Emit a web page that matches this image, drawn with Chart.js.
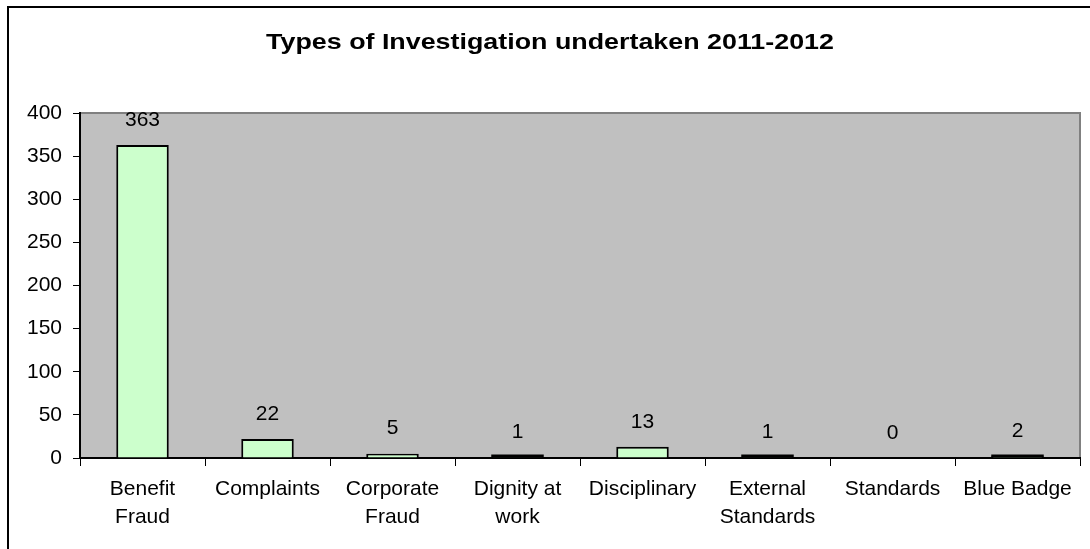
<!DOCTYPE html>
<html>
<head>
<meta charset="utf-8">
<script src="https://cdn.jsdelivr.net/npm/chart.js@4.4.0/dist/chart.umd.min.js"></script>
<style>
  body { margin: 0; background: #fff; }
  #grafico { display: block; }
</style>
</head>
<body>
<canvas id="grafico" width="1090" height="549"></canvas>
<script>
const titulo = "Types of Investigation undertaken 2011-2012";
const categorias = [
  ["Benefit", "Fraud"],
  "Complaints",
  ["Corporate", "Fraud"],
  ["Dignity at", "work"],
  "Disciplinary",
  ["External", "Standards"],
  "Standards",
  "Blue Badge",
];
const investigaciones = [363, 22, 5, 1, 13, 1, 0, 2];
const ejeMin = 0;
const ejeMax = 400;
const ejePaso = 50;

const fuente = "'Liberation Sans', Arial, sans-serif";

// fondo gris del area de trazado + marco exterior + titulo (algo estirado)
const fondo = {
  id: "fondo",
  beforeDraw(chart) {
    const { ctx, chartArea: a } = chart;
    ctx.save();
    ctx.fillStyle = "#C0C0C0";
    ctx.fillRect(a.left, a.top, a.right - a.left, a.bottom - a.top);
    ctx.strokeStyle = "#808080";
    ctx.lineWidth = 2;
    ctx.beginPath();
    ctx.moveTo(a.left, a.top);
    ctx.lineTo(a.right, a.top);
    ctx.lineTo(a.right, a.bottom);
    ctx.stroke();
    ctx.strokeStyle = "#000";
    ctx.lineWidth = 2;
    ctx.strokeRect(8, 7, 1200, 1200);

    ctx.fillStyle = "#000";
    ctx.font = "bold 22px " + fuente;
    ctx.textAlign = "center";
    ctx.textBaseline = "alphabetic";
    ctx.translate(550, 49);
    ctx.scale(1.22, 1);
    ctx.fillText(titulo, 0, 0);
    ctx.restore();
  },
};

// numeros encima de cada barra; las barras muy bajas se ven como raya negra
const etiquetas = {
  id: "etiquetas",
  afterDatasetsDraw(chart) {
    const { ctx } = chart;
    const meta = chart.getDatasetMeta(0);
    ctx.save();
    ctx.fillStyle = "#000";
    meta.data.forEach((bar, i) => {
      const alto = bar.base - bar.y;
      if (investigaciones[i] > 0 && alto < 3) {
        ctx.fillRect(bar.x - bar.width / 2, bar.base - 3, bar.width, 3);
      }
    });
    ctx.font = "21px " + fuente;
    ctx.textAlign = "center";
    ctx.textBaseline = "middle";
    meta.data.forEach((bar, i) => {
      ctx.fillText(String(investigaciones[i]), bar.x, bar.y - 25);
    });
    ctx.restore();
  },
};

const grafico = () => {
  const canvas = document.getElementById("grafico");
  new Chart(canvas, {
    type: "bar",
    data: {
      labels: categorias,
      datasets: [
        {
          data: investigaciones,
          backgroundColor: "#CCFFCC",
          borderColor: "#000",
          borderWidth: 2,
          barPercentage: 0.42,
          categoryPercentage: 1,
        },
      ],
    },
    options: {
      responsive: false,
      animation: false,
      layout: { padding: { left: 0, right: 10, top: 113, bottom: 0 } },
      plugins: {
        legend: { display: false },
        tooltip: { enabled: false },
        title: { display: false },
      },
      scales: {
        x: {
          grid: {
            offset: true,
            drawOnChartArea: false,
            tickLength: 8,
            color: "#000",
            lineWidth: 1,
          },
          border: { display: true, color: "#000", width: 2 },
          ticks: {
            color: "#000",
            font: { family: fuente, size: 21, lineHeight: 1.333 },
            padding: 9,
            maxRotation: 0,
            autoSkip: false,
          },
          afterFit: (scale) => {
            scale.height = 91;
          },
        },
        y: {
          min: ejeMin,
          max: ejeMax,
          grid: {
            drawOnChartArea: false,
            tickLength: 7,
            color: "#000",
            lineWidth: 1,
          },
          border: { display: true, color: "#000", width: 2 },
          ticks: {
            stepSize: ejePaso,
            color: "#000",
            font: { family: fuente, size: 21 },
            padding: 11,
          },
          afterFit: (scale) => {
            scale.width = 80;
          },
        },
      },
    },
    plugins: [fondo, etiquetas],
  });
};

grafico();
</script>
</body>
</html>
